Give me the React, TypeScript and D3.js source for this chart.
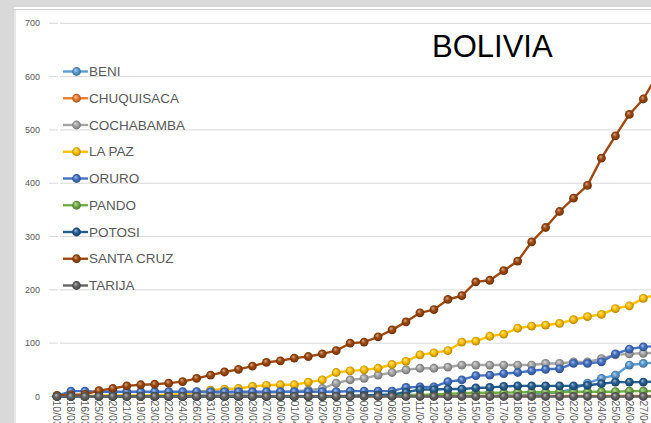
import React from "react";
import * as d3 from "d3";

const DATES = [
  "10/03/2020","18/03/2020","16/03/2020","25/03/2020","20/03/2020","21/03/2020","19/03/2020","23/03/2020","22/03/2020","24/03/2020",
  "26/03/2020","31/03/2020","30/03/2020","28/03/2020","29/03/2020","27/03/2020","06/04/2020","01/04/2020","03/04/2020","02/04/2020",
  "05/04/2020","04/04/2020","09/04/2020","07/04/2020","08/04/2020","10/04/2020","11/04/2020","12/04/2020","13/04/2020","14/04/2020",
  "15/04/2020","16/04/2020","17/04/2020","18/04/2020","19/04/2020","20/04/2020","21/04/2020","22/04/2020","23/04/2020","24/04/2020",
  "25/04/2020","26/04/2020","27/04/2020","28/04/2020"
];

const BENI = [0,0,0,0,0,0,0,0,0,0, 0,0,0,0,0,0,0,0,0,0, 0,0,1,1,1,1,1,1,1,1, 1,1,2,2,3,6,8,14,25,34, 40,59,62,64];
const CHUQUISACA = [0,0,0,0,0,0,0,0,0,0, 0,1,1,1,1,1,1,1,1,1, 1,1,1,1,1,1,1,1,1,1, 1,1,1,1,1,1,1,1,1,1, 1,1,1,1];
const COCHABAMBA = [0,0,0,1,1,1,1,1,2,2, 3,4,5,5,6,7,8,10,12,15, 25,31,34,40,45,50,53,53,55,59, 59,59,59,59,59,62,62,65,65,71, 78,80,81,82];
const LA_PAZ = [0,0,0,2,2,2,2,2,4,4, 8,12,14,15,19,21,22,22,27,31, 45,48,50,53,60,66,78,82,86,102, 104,113,117,128,132,134,137,144,150,154, 165,170,184,192];
const ORURO = [1,10,10,9,9,9,9,9,9,9, 9,9,9,9,9,9,9,9,9,9, 9,10,10,10,10,17,18,18,28,31, 39,40,43,45,48,51,52,62,62,65, 80,89,93,95];
const PANDO = [0,0,0,0,0,0,0,0,0,0, 0,0,0,0,0,0,0,0,0,0, 0,1,1,2,2,3,3,4,5,6, 7,7,7,8,8,8,8,9,9,9, 9,10,10,10];
const POTOSI = [0,0,0,0,0,0,0,0,0,0, 0,0,0,0,0,0,0,0,0,0, 0,1,2,3,4,8,13,13,14,14, 16,17,19,20,20,20,20,20,21,24, 27,27,27,28];
const SANTA_CRUZ = [2,3,4,11,15,20,22,23,25,28, 34,40,46,51,57,64,67,72,75,80, 86,100,102,112,125,140,157,163,182,189, 215,218,236,254,290,317,347,372,396,447, 489,529,558,603];
const TARIJA = [0,0,0,0,0,0,0,0,0,0, 0,0,0,0,0,0,0,0,0,0, 0,0,0,0,0,0,0,0,0,0, 0,0,0,0,0,0,0,0,0,0, 0,0,0,0];

const SERIES_NAMES = ["BENI","CHUQUISACA","COCHABAMBA","LA PAZ","ORURO","PANDO","POTOSI","SANTA CRUZ","TARIJA"];
const SERIES_VALUES = [BENI, CHUQUISACA, COCHABAMBA, LA_PAZ, ORURO, PANDO, POTOSI, SANTA_CRUZ, TARIJA];
const SERIES_COLORS = ["#5B9BD5","#ED7D31","#A5A5A5","#FFC000","#4472C4","#70AD47","#255E91","#9E480E","#636363"];
const Y_TICKS = [0,100,200,300,400,500,600,700];

const W = 651, H = 423;
const FONT = "'Liberation Sans', Arial, sans-serif";

export default function App() {
  const x = d3.scaleLinear().domain([0, DATES.length - 1]).range([57, 57 + 13.96 * (DATES.length - 1)]);
  const y = d3.scaleLinear().domain([0, 700]).range([396.5, 23.3]);
  const line = d3.line<number>().x((_, i) => x(i)).y((v) => y(v));
  const r = 4.4;

  const lighten = (c: string, k: number) => d3.interpolateRgb(c, "#ffffff")(k);
  const darken = (c: string, k: number) => d3.interpolateRgb(c, "#000000")(k);

  return (
    <svg width={W} height={H} style={{ position: "absolute", left: 0, top: 0, display: "block" }} xmlns="http://www.w3.org/2000/svg">
      <defs>
        {SERIES_COLORS.map((c, i) => (
          <radialGradient key={i} id={`g${i}`} cx="50%" cy="50%" r="55%" fx="38%" fy="32%">
            <stop offset="0%" stopColor={lighten(c, 0.55)} />
            <stop offset="45%" stopColor={c} />
            <stop offset="100%" stopColor={darken(c, 0.35)} />
          </radialGradient>
        ))}
      </defs>
      <rect x={0} y={0} width={W} height={H} fill="#d9d9d9" />
      <rect x={14} y={7} width={W - 14} height={H - 7} fill="#ffffff" />
      <line x1={14} x2={W} y1={9.5} y2={9.5} stroke="#d0d0d0" />
      <line x1={15} x2={15} y1={9} y2={H} stroke="#d0d0d0" />

      {Y_TICKS.map((t) => (
        <g key={t}>
          <line x1={60} x2={W} y1={y(t)} y2={y(t)} stroke="#d9d9d9" strokeWidth={1} />
          <line x1={49} x2={58} y1={y(t)} y2={y(t)} stroke="#d9d9d9" strokeWidth={1} />
          <text x={40} y={y(t) + 3} textAnchor="end" fontFamily={FONT} fontSize={9} fill="#595959">{t}</text>
        </g>
      ))}

      {DATES.map((d, i) => (
        <text key={i} transform={`translate(${x(i)},400.5) rotate(90)`} x={0} y={0} dy="0.35em" textAnchor="start"
          fontFamily={FONT} fontSize={10.5} fill="#595959">{d}</text>
      ))}

      {SERIES_VALUES.map((vals, si) => (
        <g key={si}>
          <path d={line(vals) || ""} fill="none" stroke={SERIES_COLORS[si]} strokeWidth={2.4} strokeLinejoin="round" />
          {vals.map((v, i) => (
            <circle key={i} cx={x(i)} cy={y(v)} r={r} fill={`url(#g${si})`} />
          ))}
        </g>
      ))}

      <text x={432} y={57.3} fontFamily={FONT} fontSize={31} fill="#000000">BOLIVIA</text>

      {SERIES_NAMES.map((n, i) => {
        const cy = 71.5 + 26.75 * i;
        return (
          <g key={n}>
            <line x1={63} x2={88} y1={cy} y2={cy} stroke={SERIES_COLORS[i]} strokeWidth={2.4} />
            <circle cx={76.5} cy={cy} r={r} fill={`url(#g${i})`} />
            <text x={89} y={cy + 4.7} fontFamily={FONT} fontSize={13.5} fill="#595959">{n}</text>
          </g>
        );
      })}
    </svg>
  );
}
